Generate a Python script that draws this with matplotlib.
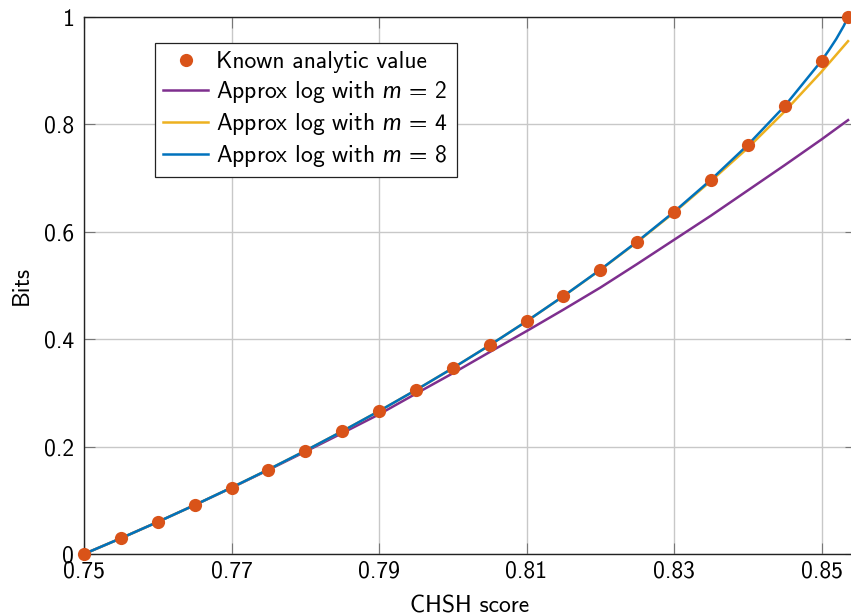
import matplotlib
matplotlib.use("Agg")
import matplotlib.pyplot as plt

plt.rcParams['font.family'] = ['cmss10', 'DejaVu Sans']
plt.rcParams['mathtext.fontset'] = 'custom'
plt.rcParams['mathtext.rm'] = 'cmss10'
plt.rcParams['mathtext.it'] = 'Lato:italic'
plt.rcParams['axes.unicode_minus'] = False
plt.rcParams['axes.formatter.use_mathtext'] = False

# data
chsh = [0.75, 0.755, 0.76, 0.765, 0.77, 0.775, 0.78, 0.785, 0.79, 0.795, 0.80,
        0.805, 0.81, 0.815, 0.82, 0.825, 0.83, 0.835, 0.84, 0.845, 0.85, 0.8536]
known = [0.0, 0.0293, 0.0597, 0.0911, 0.1236, 0.1573, 0.1922, 0.2285, 0.2661, 0.3053,
         0.3461, 0.3887, 0.4333, 0.4802, 0.5294, 0.5816, 0.6371, 0.6968, 0.7617,
         0.8340, 0.9185, 1.0]
approx_m2 = [0.0, 0.0293, 0.0597, 0.0910, 0.1233, 0.1565, 0.1905, 0.2250, 0.2600, 0.2985,
             0.3365, 0.3760, 0.4150, 0.4550, 0.4960, 0.5400, 0.5850, 0.6300, 0.6770,
             0.7240, 0.7720, 0.8080]
approx_m4 = [0.0, 0.0293, 0.0597, 0.0911, 0.1236, 0.1573, 0.1922, 0.2285, 0.2661, 0.3053,
             0.3461, 0.3887, 0.4332, 0.4800, 0.5290, 0.5808, 0.6358, 0.6945, 0.7560,
             0.8240, 0.8980, 0.9550]
chsh_m8 = [0.75, 0.755, 0.76, 0.765, 0.77, 0.775, 0.78, 0.785, 0.79, 0.795, 0.80,
           0.805, 0.81, 0.815, 0.82, 0.825, 0.83, 0.835, 0.84, 0.845, 0.85, 0.851,
           0.852, 0.853, 0.8536]
approx_m8 = [0.0, 0.0293, 0.0597, 0.0911, 0.1236, 0.1573, 0.1922, 0.2285, 0.2661, 0.3053,
             0.3461, 0.3887, 0.4333, 0.4802, 0.5294, 0.5816, 0.6371, 0.6968, 0.7617,
             0.8340, 0.9185, 0.9381, 0.9591, 0.9830, 1.0]
xticks = [0.75, 0.77, 0.79, 0.81, 0.83, 0.85]
xticklabels = ['0.75', '0.77', '0.79', '0.81', '0.83', '0.85']
yticks = [0, 0.2, 0.4, 0.6, 0.8, 1.0]
yticklabels = ['0', '0.2', '0.4', '0.6', '0.8', '1']

fig = plt.figure(figsize=(8.51, 6.16), dpi=100)
axw = 772
ax = fig.add_axes([84/851, 62/616, axw/851, 537/616])

ax.plot(chsh, approx_m2, color='#7E2F8E', lw=1.8, label=r'Approx log with $m$ = 2', zorder=3)
ax.plot(chsh, approx_m4, color='#EDB120', lw=1.8, label=r'Approx log with $m$ = 4', zorder=3)
ax.plot(chsh_m8, approx_m8, color='#0072BD', lw=1.8, label=r'Approx log with $m$ = 8', zorder=3)
ax.plot(chsh, known, 'o', color='#D95319', ms=9.5, mec='none', label='Known analytic value',
        zorder=4, clip_on=False)

ax.set_xlim(0.75, 0.75 + axw/7375)
ax.set_ylim(0, 1)
ax.set_xticks(xticks)
ax.set_xticklabels(xticklabels)
ax.set_yticks(yticks)
ax.set_yticklabels(yticklabels)
ax.grid(True, color='#c8c8c8', lw=1.0)
ax.set_axisbelow(True)
ax.tick_params(direction='in', length=8, width=0.8, color='#777777', labelsize=17,
               top=True, right=True, pad=7)
ax.tick_params(axis='x', pad=5)
for s in ax.spines.values():
    s.set_linewidth(1.0)
    s.set_color('#222222')

ax.set_xlabel('CHSH score', fontsize=17, labelpad=9)
ax.set_ylabel('Bits', fontsize=17, labelpad=8)

h, l = ax.get_legend_handles_labels()
order = [3, 0, 1, 2]
leg = ax.legend([h[i] for i in order], [l[i] for i in order], loc='upper left',
                bbox_to_anchor=((155-84)/axw, (554-43)/537), borderaxespad=0,
                fontsize=17, frameon=True, fancybox=False, edgecolor='#222222',
                framealpha=1, handlelength=1.9, handletextpad=0.35, labelspacing=0.25,
                borderpad=0.35, numpoints=1)
leg.get_frame().set_linewidth(0.9)

fig.savefig('out.png', dpi=100)
